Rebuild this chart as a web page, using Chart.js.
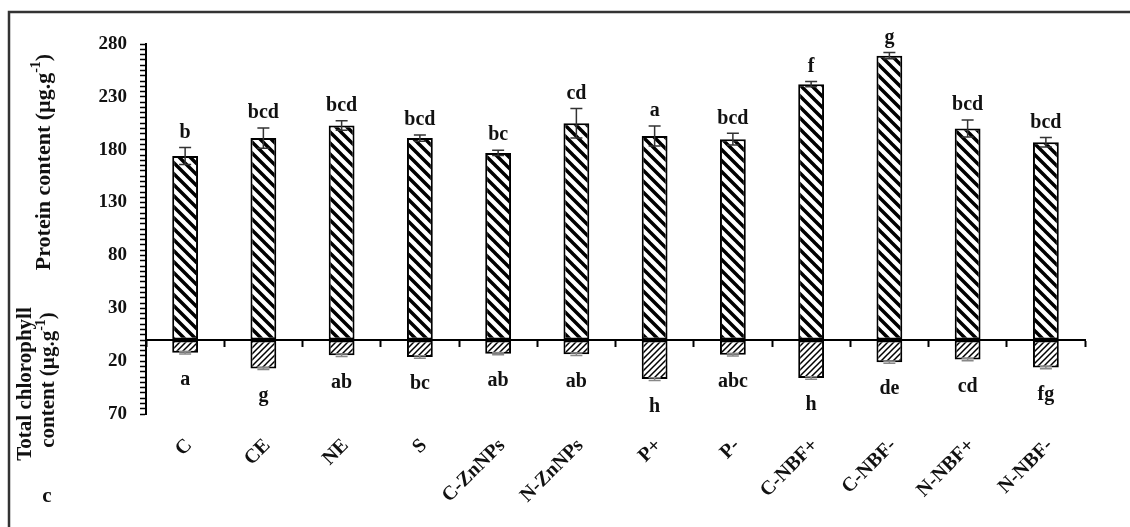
<!DOCTYPE html>
<html>
<head>
<meta charset="utf-8">
<script src="https://cdn.jsdelivr.net/npm/chart.js@4.4.1/dist/chart.umd.min.js"></script>
<style>
  html, body { margin: 0; padding: 0; background: #fff; }
</style>
</head>
<body>
<canvas id="chart" width="1130" height="527"></canvas>
<script>
// treatments
const categories = ['C', 'CE', 'NE', 'S', 'C-ZnNPs', 'N-ZnNPs', 'P+', 'P-', 'C-NBF+', 'C-NBF-', 'N-NBF+', 'N-NBF-'];

// protein content (µg.g-1), drawn upwards
const protein = [174, 191, 203, 191, 177, 205, 193, 190, 242, 269, 200, 187];
const proteinErr = [8, 9.5, 4.5, 3, 2.5, 14, 9.5, 5.5, 2.5, 3, 8, 4.5];
const proteinLetters = ['b', 'bcd', 'bcd', 'bcd', 'bc', 'cd', 'a', 'bcd', 'f', 'g', 'bcd', 'bcd'];

// total chlorophyll content (µg.g-1), drawn downwards
const chlorophyll = [12, 27, 14.5, 16, 13, 13.5, 37, 14, 36, 21, 18.5, 26];
const chlorophyllErr = [1.2, 1, 1.2, 1.2, 1, 1.2, 1.2, 1.2, 1.2, 1, 1.2, 1.2];
const chlorophyllLetters = ['a', 'g', 'ab', 'bc', 'ab', 'ab', 'h', 'abc', 'h', 'de', 'cd', 'fg'];

// y axis: one scale, labels shown as absolute values
const yMin = -70;
const yMax = 280;
const yMajor = 50;
const yMinor = 5;

const SERIF = '"Liberation Serif", "Times New Roman", serif';

const ctx = document.getElementById('chart').getContext('2d');

// hatch fills
function hatch(dir, size, width) {
    const c = document.createElement('canvas');
    c.width = size;
    c.height = size;
    const g = c.getContext('2d');
    g.fillStyle = '#fff';
    g.fillRect(0, 0, size, size);
    g.strokeStyle = '#000';
    g.lineWidth = width;
    g.beginPath();
    for (let k = -1; k <= 1; k++) {
        if (dir === '\\') {
            g.moveTo(k * size - 1, -1);
            g.lineTo(k * size + size + 1, size + 1);
        } else {
            g.moveTo(k * size - 1, size + 1);
            g.lineTo(k * size + size + 1, -1);
        }
    }
    g.stroke();
    return ctx.createPattern(c, 'repeat');
}

function drawVerticalText(c, parts, cx, cy, size) {
    c.save();
    c.translate(cx, cy);
    c.rotate(-Math.PI / 2);
    const font = 'bold ' + size + 'px ' + SERIF;
    const supFont = 'bold ' + Math.round(size * 0.65) + 'px ' + SERIF;
    let w = 0;
    parts.forEach(p => {
        c.font = p.sup ? supFont : font;
        w += c.measureText(p.t).width;
    });
    let x = -w / 2;
    c.textAlign = 'left';
    c.textBaseline = 'middle';
    c.fillStyle = '#111';
    parts.forEach(p => {
        c.font = p.sup ? supFont : font;
        c.fillText(p.t, x, p.sup ? -size * 0.35 : 0);
        x += c.measureText(p.t).width;
    });
    c.restore();
}

const extras = {
    id: 'extras',
    beforeDraw(chart) {
        const c = chart.ctx;
        c.save();
        c.strokeStyle = '#333';
        c.lineWidth = 2.5;
        c.beginPath();
        c.moveTo(9, 527);
        c.lineTo(9, 12);
        c.lineTo(1130, 12);
        c.stroke();
        c.restore();
    },
    afterDatasetsDraw(chart) {
        const c = chart.ctx;
        const xs = chart.scales.x;
        const ys = chart.scales.y;
        c.save();
        c.lineWidth = 1.5;
        // error bars
        categories.forEach((_, i) => {
            const x = xs.getPixelForValue(i);
            [[protein[i], proteinErr[i], '#333'], [-chlorophyll[i], chlorophyllErr[i], '#888']].forEach(([v, e, col]) => {
                const y1 = ys.getPixelForValue(v - e);
                const y2 = ys.getPixelForValue(v + e);
                c.strokeStyle = col;
                c.beginPath();
                c.moveTo(x, y1); c.lineTo(x, y2);
                c.moveTo(x - 6, y1); c.lineTo(x + 6, y1);
                c.moveTo(x - 6, y2); c.lineTo(x + 6, y2);
                c.stroke();
            });
        });
        // significance letters
        c.fillStyle = '#111';
        c.font = 'bold 20px ' + SERIF;
        c.textAlign = 'center';
        c.textBaseline = 'middle';
        categories.forEach((_, i) => {
            const x = xs.getPixelForValue(i);
            const top = ys.getPixelForValue(protein[i] + proteinErr[i]);
            c.fillText(proteinLetters[i], x, top - 15);
            const bot = ys.getPixelForValue(-chlorophyll[i] - chlorophyllErr[i]);
            c.fillText(chlorophyllLetters[i], x, bot + 26);
        });
        c.restore();
    },
    afterDraw(chart) {
        const c = chart.ctx;
        drawVerticalText(c, [{ t: 'Protein content (µg.g' }, { t: '-1', sup: true }, { t: ')' }], 44, 162, 22);
        drawVerticalText(c, [{ t: 'Total chlorophyll' }], 26, 384, 21);
        drawVerticalText(c, [{ t: 'content (µg.g' }, { t: '-1', sup: true }, { t: ')' }], 49, 380, 21);
        c.save();
        c.fillStyle = '#111';
        c.font = 'bold 21px ' + SERIF;
        c.textAlign = 'center';
        c.textBaseline = 'middle';
        c.fillText('c', 47, 497);
        c.restore();
    }
};

new Chart(ctx, {
    type: 'bar',
    data: {
        labels: categories,
        datasets: [
            {
                label: 'Protein content',
                data: protein,
                xAxisID: 'x',
                backgroundColor: hatch('\\', 11, 3.5),
                borderColor: '#000',
                borderWidth: 2,
                borderSkipped: false
            },
            {
                label: 'Total chlorophyll content',
                data: chlorophyll.map(v => -v),
                xAxisID: 'x',
                backgroundColor: hatch('/', 6, 1.5),
                borderColor: '#000',
                borderWidth: 2,
                borderSkipped: false
            }
        ]
    },
    options: {
        responsive: false,
        animation: false,
        devicePixelRatio: 1,
        layout: { padding: { left: 0, right: 45, top: 44, bottom: 0 } },
        datasets: { bar: { barPercentage: 0.33, categoryPercentage: 1 } },
        plugins: {
            legend: { display: false },
            tooltip: { enabled: false }
        },
        scales: {
            x: {
                stacked: true,
                offset: true,
                grid: { display: false },
                border: { display: false },
                ticks: {
                    autoSkip: false,
                    minRotation: 45,
                    maxRotation: 45,
                    labelOffset: 4,
                    padding: 12,
                    color: '#111',
                    font: { family: SERIF, size: 20, weight: 'bold' }
                },
                afterFit(scale) { scale.height = 113; }
            },
            x2: {
                type: 'category',
                axis: 'x',
                position: { y: 0 },
                offset: true,
                ticks: { display: false },
                grid: { offset: true, drawOnChartArea: false, tickLength: 6, color: '#000', tickWidth: 2, z: 1 },
                border: { display: true, color: '#000', width: 2, z: 1 }
            },
            y: {
                stacked: true,
                min: yMin,
                max: yMax,
                grid: { drawOnChartArea: false, tickLength: 6, color: '#000', tickWidth: 1.5 },
                border: { display: true, color: '#000', width: 2 },
                ticks: {
                    stepSize: yMinor,
                    maxTicksLimit: 200,
                    autoSkip: false,
                    padding: 13,
                    color: '#111',
                    font: { family: SERIF, size: 19, weight: 'bold' },
                    callback: (v) => ((v - yMin) % yMajor === 0 ? String(Math.abs(v)) : '')
                },
                afterFit(scale) { scale.width = 146; }
            }
        }
    },
    plugins: [extras]
});
</script>
</body>
</html>
